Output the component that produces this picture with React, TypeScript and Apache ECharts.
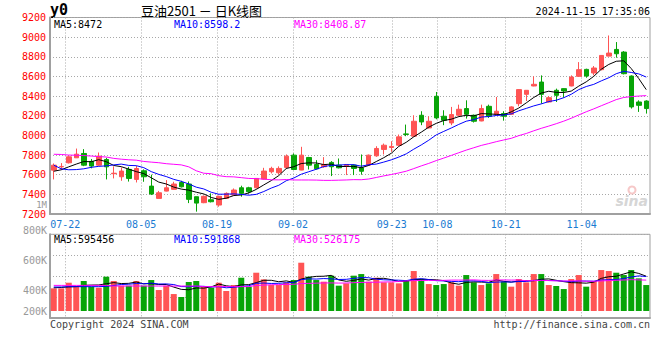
import React, { useEffect, useRef } from 'react';
import * as echarts from 'echarts';

// ---------- data ----------
const dates = [
  '07-18','07-19','07-22','07-23','07-24','07-25','07-26','07-29','07-30','07-31',
  '08-01','08-02','08-05','08-06','08-07','08-08','08-09','08-12','08-13','08-14',
  '08-15','08-16','08-19','08-20','08-21','08-22','08-23','08-26','08-27','08-28',
  '08-29','08-30','09-02','09-03','09-04','09-05','09-06','09-09','09-10','09-11',
  '09-12','09-13','09-18','09-19','09-20','09-23','09-24','09-25','09-26','09-27',
  '09-30','10-08','10-09','10-10','10-11','10-14','10-15','10-16','10-17','10-18',
  '10-21','10-22','10-23','10-24','10-25','10-28','10-29','10-30','10-31','11-01',
  '11-04','11-05','11-06','11-07','11-08','11-11','11-12','11-13','11-14','11-15',
];

const tickDates = ['07-22', '08-05', '08-19', '09-02', '09-23', '10-08', '10-21', '11-04'];

const opens = [
  7646,7680,7721,7772,7816,7735,7697,7755,7610,7579,
  7654,7552,7640,7484,7359,7433,7451,7521,7505,7376,
  7315,7345,7291,7359,7393,7467,7467,7467,7555,7630,
  7620,7674,7799,7647,7775,7704,7681,7725,7697,7691,
  7697,7670,7697,7792,7857,7877,7900,8015,7992,8205,
  8076,8398,8195,8127,8205,8273,8205,8147,8296,8212,
  8222,8215,8323,8418,8503,8543,8340,8459,8476,8503,
  8601,8672,8635,8669,8807,8875,8848,8604,8340,8350,
];
const closes = [
  7697,7684,7782,7809,7697,7688,7789,7680,7615,7637,
  7562,7663,7579,7403,7416,7467,7505,7477,7349,7311,
  7380,7325,7380,7410,7444,7410,7427,7562,7637,7664,
  7664,7789,7653,7799,7697,7660,7704,7681,7670,7704,
  7664,7635,7799,7867,7900,7888,7985,8010,8144,8137,
  8144,8178,8154,8212,8266,8215,8144,8273,8195,8246,
  8195,8290,8466,8459,8520,8418,8384,8408,8452,8594,
  8669,8604,8686,8814,8838,8831,8628,8290,8306,8273,
];
const lows = [
  7552,7650,7714,7772,7687,7665,7690,7552,7562,7538,
  7530,7521,7528,7393,7359,7430,7448,7470,7311,7224,
  7310,7318,7274,7355,7390,7376,7410,7460,7550,7613,
  7603,7657,7647,7645,7653,7653,7670,7586,7664,7596,
  7596,7600,7690,7782,7806,7833,7894,7992,7985,8104,
  8070,8164,8104,8104,8198,8171,8131,8144,8178,8205,
  8150,8212,8296,8350,8500,8323,8335,8340,8384,8500,
  8598,8587,8611,8662,8804,8791,8621,8273,8239,8222,
];
const highs = [
  7714,7718,7795,7866,7860,7760,7826,7772,7685,7673,
  7680,7690,7654,7600,7435,7545,7528,7538,7531,7376,
  7388,7410,7386,7420,7460,7488,7477,7565,7670,7681,
  7685,7806,7816,7884,7782,7748,7779,7738,7765,7706,
  7704,7806,7805,7890,7917,7941,8009,8110,8205,8246,
  8195,8442,8256,8290,8313,8357,8212,8313,8313,8391,
  8246,8296,8470,8462,8601,8611,8401,8476,8480,8611,
  8746,8679,8706,8818,9017,8950,8858,8611,8357,8357,
];
const volumes = [
  390000,390000,487000,419000,516000,419000,401000,591000,516000,436000,
  436000,516000,436000,533000,361000,436000,292000,241000,499000,516000,
  419000,401000,487000,344000,447000,573000,419000,659000,545000,447000,
  447000,493000,533000,831000,591000,533000,505000,608000,436000,476000,
  608000,636000,505000,573000,493000,493000,476000,533000,688000,550000,
  464000,447000,464000,493000,436000,619000,493000,447000,476000,636000,
  505000,419000,550000,493000,636000,636000,447000,430000,378000,550000,
  619000,419000,516000,705000,688000,659000,619000,705000,562000,447000,
];

// moving-average values before enough history is on screen
const ma5Early = [7635, 7650, 7680, 7708];
const ma10Early = [7697, 7660, 7650, 7652, 7660, 7675, 7685, 7690, 7700];
const ma30Early = [
  7808,7806,7800,7798,7795,7790,7784,7780,7766,7758,
  7752,7748,7735,7728,7722,7712,7706,7700,7680,7640,
  7615,7610,7590,7580,7578,7570,7562,7560,7555,
];
const volMa5Early = [400000, 405000, 415000, 420000];
const volMa10Early = [413000, 413000, 419000, 419000, 419000, 419000, 419000, 424000, 440000];
const volMa30Early = [
  441000,441000,441000,441000,441000,441000,441000,441000,430000,430000,
  430000,430000,430000,430000,430000,430000,430000,430000,430000,430000,
  420000,420000,420000,420000,420000,420000,420000,440000,445000,
];

const priceLegend = ['MA5:8472', 'MA10:8598.2', 'MA30:8408.87'];
const volumeLegend = ['MA5:595456', 'MA10:591868', 'MA30:526175'];
const volumeTickLabels = ['800K', '600K', '400K', '200K'];
const titleText = '豆油2501 － 日K线图';
const symbolText = 'y0';
const timeText = '2024-11-15 17:35:06';

// ---------- helpers ----------
function movingAverage(values: number[], n: number, early: number[]): number[] {
  return values.map((_, i) => {
    if (i < n - 1) return early[i];
    let s = 0;
    for (let k = i - n + 1; k <= i; k++) s += values[k];
    return Math.round((s / n) * 100) / 100;
  });
}

const MONO = '"DejaVu Sans Mono", "Liberation Mono", monospace';
const CJK = '"Noto Sans CJK SC", "Noto Sans", sans-serif';
const UP = '#ff5454';
const DOWN = '#08a408';
const MA_COLORS = ['#000000', '#0000ff', '#ff00ff'];
const GRID_LINE = { color: '#a8a8a8', type: [1, 2] as number[], width: 1 };
const FRAME = '#a0a0a0';

export default function App() {
  const ref = useRef<HTMLDivElement>(null);

  useEffect(() => {
    if (!ref.current) return;
    const chart = echarts.init(ref.current, null, { renderer: 'svg' });

    const tickIdx = tickDates.map((d) => dates.indexOf(d));
    const last = dates.length - 1;

    const ma5 = movingAverage(closes, 5, ma5Early);
    const ma10 = movingAverage(closes, 10, ma10Early);
    const ma30 = movingAverage(closes, 30, ma30Early);
    const vma5 = movingAverage(volumes, 5, volMa5Early);
    const vma10 = movingAverage(volumes, 10, volMa10Early);
    const vma30 = movingAverage(volumes, 30, volMa30Early);

    const lineSeries = (data: number[], color: string, xi: number, yi: number) => ({
      type: 'line',
      xAxisIndex: xi,
      yAxisIndex: yi,
      data,
      symbol: 'none',
      smooth: false,
      silent: true,
      lineStyle: { color, width: 1 },
      z: 4,
    });

    const legendX = [54, 174, 294];
    const legendTexts = (items: string[], y: number) =>
      items.map((t, k) => ({
        type: 'text',
        x: legendX[k],
        y,
        silent: true,
        z: 10,
        style: {
          text: t,
          fill: MA_COLORS[k],
          font: `10px ${MONO}`,
          textVerticalAlign: 'middle',
        },
      }));

    const volLabelY = [230, 260, 290.7, 311];

    const option: any = {
      animation: false,
      backgroundColor: '#ffffff',
      grid: [
        { left: 50, right: 10, top: 17.5, height: 196.5, show: true, borderColor: FRAME, borderWidth: 1, backgroundColor: 'transparent' },
        { left: 50, right: 10, top: 234.3, height: 83.4, show: true, borderColor: FRAME, borderWidth: 1, backgroundColor: 'transparent' },
      ],
      xAxis: [
        { type: 'category', gridIndex: 0, data: dates, boundaryGap: true, show: false },
        {
          type: 'value', gridIndex: 0, min: 0, max: last, position: 'bottom',
          axisLine: { show: true, onZero: false, lineStyle: { color: FRAME, width: 2 } },
          axisTick: { show: false, customValues: tickIdx },
          axisLabel: {
            show: true, customValues: tickIdx, color: '#1a7bd2', fontFamily: MONO, fontSize: 10, margin: 5,
            formatter: (v: number) => dates[Math.round(v)] ?? '',
          },
          splitLine: { show: true, lineStyle: GRID_LINE },
        },
        { type: 'category', gridIndex: 1, data: dates, boundaryGap: true, show: false },
        {
          type: 'value', gridIndex: 1, min: 0, max: last, position: 'bottom',
          axisLine: { show: true, onZero: false, lineStyle: { color: FRAME, width: 2 } },
          axisTick: { show: false, customValues: tickIdx },
          axisLabel: { show: false, customValues: tickIdx },
          splitLine: { show: true, lineStyle: GRID_LINE },
        },
      ],
      yAxis: [
        {
          type: 'value', gridIndex: 0, min: 7200, max: 9200, interval: 200, position: 'left',
          axisLine: { show: true, lineStyle: { color: FRAME, width: 2 } },
          axisTick: { show: false },
          axisLabel: {
            color: '#ff0000', fontFamily: MONO, fontSize: 10, margin: 4, lineHeight: 9,
            formatter: (v: number) => String(v),
          },
          splitLine: { show: true, lineStyle: GRID_LINE },
        },
        { type: 'value', gridIndex: 1, min: -115000, max: 1320000, show: false, splitLine: { show: false } },
        {
          type: 'value', gridIndex: 1, min: 0, max: 4, interval: 1, position: 'left',
          axisLine: { show: true, lineStyle: { color: FRAME, width: 2 } },
          axisTick: { show: false },
          axisLabel: { show: false },
          splitLine: { show: true, lineStyle: GRID_LINE },
        },
      ],
      series: [
        {
          type: 'candlestick',
          xAxisIndex: 0,
          yAxisIndex: 0,
          data: dates.map((_, i) => [opens[i], closes[i], lows[i], highs[i]]),
          barWidth: 5,
          silent: true,
          z: 3,
          itemStyle: { color: UP, color0: DOWN, borderColor: UP, borderColor0: DOWN, borderWidth: 1 },
        },
        lineSeries(ma5, MA_COLORS[0], 0, 0),
        lineSeries(ma10, MA_COLORS[1], 0, 0),
        lineSeries(ma30, MA_COLORS[2], 0, 0),
        {
          type: 'bar',
          xAxisIndex: 2,
          yAxisIndex: 1,
          barWidth: 6,
          silent: true,
          z: 3,
          data: volumes.map((v, i) => ({
            value: v,
            itemStyle: { color: closes[i] >= opens[i] ? UP : DOWN },
          })),
        },
        lineSeries(vma5, MA_COLORS[0], 2, 1),
        lineSeries(vma10, MA_COLORS[1], 2, 1),
        lineSeries(vma30, MA_COLORS[2], 2, 1),
      ],
      graphic: [
        {
          type: 'text', x: 50, y: 10, silent: true,
          style: { text: symbolText, fill: '#000', font: `bold 15px ${MONO}`, textVerticalAlign: 'middle' },
        },
        {
          type: 'text', x: 141, y: 10, silent: true,
          style: { text: titleText, fill: '#000', font: `13px ${CJK}`, textVerticalAlign: 'middle' },
        },
        {
          type: 'text', x: 650, y: 11.5, silent: true,
          style: { text: timeText, fill: '#000', font: `10px ${MONO}`, textAlign: 'right', textVerticalAlign: 'middle' },
        },
        ...legendTexts(priceLegend, 24),
        ...legendTexts(volumeLegend, 239.5),
        {
          type: 'text', x: 47, y: 204.6, silent: true,
          style: { text: '1M', fill: '#999', font: `9px ${MONO}`, lineHeight: 8, textAlign: 'right', textVerticalAlign: 'middle' },
        },
        ...volumeTickLabels.map((t, k) => ({
          type: 'text', x: 47, y: volLabelY[k], silent: true,
          style: { text: t, fill: '#999', font: `10px ${MONO}`, textAlign: 'right', textVerticalAlign: 'middle' },
        })),
        {
          type: 'text', x: 50, y: 324, silent: true,
          style: { text: 'Copyright 2024 SINA.COM', fill: '#444', font: `10px ${MONO}`, textVerticalAlign: 'middle' },
        },
        {
          type: 'text', x: 650, y: 324, silent: true,
          style: { text: 'http://finance.sina.com.cn', fill: '#444', font: `10px ${MONO}`, textAlign: 'right', textVerticalAlign: 'middle' },
        },
        {
          type: 'ring', shape: { cx: 632, cy: 190, r: 4.5, r0: 2.5 }, silent: true, z: 1,
          style: { fill: '#f6c8c8' },
        },
        {
          type: 'text', x: 648, y: 201, silent: true, z: 1,
          style: { text: 'sina', fill: '#d6d6d6', font: `italic bold 14px "DejaVu Sans", sans-serif`, textAlign: 'right', textVerticalAlign: 'middle' },
        },
      ],
    };

    chart.setOption(option);
    return () => chart.dispose();
  }, []);

  return (
    <div
      ref={ref}
      style={{ position: 'fixed', left: 0, top: 0, width: 660, height: 360, background: '#fff' }}
    />
  );
}
